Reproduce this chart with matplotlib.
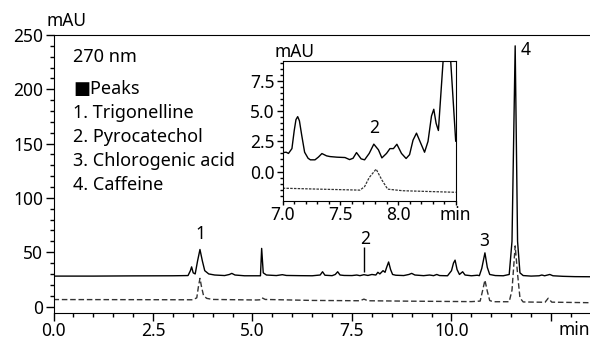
import matplotlib.pyplot as plt
from matplotlib.ticker import MultipleLocator

plt.rcParams['font.family'] = ['Noto Sans', 'DejaVu Sans']
plt.rcParams['font.size'] = 12.5

# main chromatogram, sample (solid) - time (min), signal (mAU)
t_sample = [0.0, 1.0, 2.0, 3.0, 3.38, 3.44, 3.47, 3.51, 3.56, 3.62, 3.68, 3.74, 3.80, 3.9,
            4.05, 4.3, 4.42, 4.48, 4.56, 4.8, 5.2, 5.23, 5.27, 5.35, 5.6, 5.75, 5.85, 6.2,
            6.5, 6.7, 6.76, 6.82, 7.0, 7.08, 7.14, 7.2, 7.3, 7.5, 7.62, 7.7, 7.8, 7.9, 8.0,
            8.1, 8.15, 8.2, 8.28, 8.33, 8.37, 8.42, 8.47, 8.52, 8.6, 8.8, 8.93, 9.0, 9.08,
            9.3, 9.45, 9.55, 9.63, 9.7, 9.9, 10.0, 10.05, 10.09, 10.14, 10.2, 10.28, 10.34,
            10.5, 10.65, 10.7, 10.76, 10.84, 10.9, 10.96, 11.1, 11.3, 11.45, 11.52, 11.6,
            11.66, 11.72, 11.8, 12.0, 12.2, 12.27, 12.34, 12.47, 12.55, 12.8, 13.1, 13.48]
v_sample = [28.0, 28.0, 28.2, 28.3, 28.5, 33, 36.5, 31, 30, 42, 52.5, 42, 33, 30,
            29, 28.5, 29.5, 30.5, 29, 28.3, 28.3, 53.5, 31, 29, 28.5, 29.3, 28.6, 28.4,
            28.3, 29, 32, 28.8, 28.4, 29.5, 32, 29, 28.6, 28.5, 29, 28.4, 29.3, 28.6, 29.5,
            29, 31.5, 30, 33, 31.5, 36, 41, 34, 29.5, 28.8, 28.5, 29.5, 30.5, 29,
            28.4, 29, 28.4, 29.5, 28.5, 28.3, 33, 40, 42.7, 34, 29.5, 32, 29,
            28.3, 28.8, 28.4, 35, 49.4, 36, 29.5, 28.5, 28.3, 29.5, 60, 240,
            60, 31, 28.5, 28, 28.3, 29, 28.3, 29.5, 28.3, 27.8, 27.5, 27.4]

# main chromatogram, standard (dashed)
t_std = [0.0, 2.0, 3.5, 3.6, 3.64, 3.68, 3.72, 3.77, 3.85, 4.0, 5.1, 5.2, 5.24, 5.32,
         6.5, 7.7, 7.8, 7.9, 9.0, 10.5, 10.72, 10.79, 10.84, 10.9, 10.96, 11.05, 11.45,
         11.52, 11.6, 11.66, 11.72, 11.8, 12.35, 12.43, 12.52, 13.48]
v_std = [6.4, 6.3, 6.2, 8, 18, 25.9, 18, 10, 7.5, 6.5, 6.0, 6.2, 8, 6.5,
         5.6, 5.3, 6.8, 5.3, 4.9, 4.5, 5, 16, 24.3, 14, 5.5, 4.4, 4.4,
         15, 55.8, 30, 8, 4.2, 3.9, 7.6, 4.0, 3.5]

# inset, 7.0 - 8.5 min
t_in_sample = [7.0, 7.03, 7.05, 7.08, 7.10, 7.115, 7.13, 7.145, 7.165, 7.19, 7.22, 7.24,
               7.28, 7.31, 7.34, 7.38, 7.41, 7.47, 7.54, 7.58, 7.61, 7.64, 7.68, 7.71,
               7.75, 7.79, 7.83, 7.86, 7.90, 7.93, 7.96, 7.99, 8.03, 8.07, 8.10, 8.13,
               8.16, 8.19, 8.23, 8.26, 8.29, 8.31, 8.33, 8.35, 8.425, 8.5]
v_in_sample = [1.57, 1.6, 1.5, 1.9, 3.4, 4.3, 4.55, 4.2, 3.0, 1.6, 1.1, 0.97,
               0.97, 1.2, 1.49, 1.3, 1.24, 1.19, 1.16, 0.99, 1.1, 1.57, 1.05, 0.97,
               1.5, 2.27, 1.8, 1.13, 1.5, 1.9, 1.9, 2.26, 1.5, 1.08, 1.4, 2.6,
               3.18, 2.5, 1.6, 2.5, 4.6, 5.16, 4.0, 3.4, 14.0, 2.52]
t_in_std = [7.0, 7.32, 7.67, 7.71, 7.75, 7.81, 7.86, 7.91, 8.04, 8.5]
v_in_std = [-1.38, -1.46, -1.54, -1.25, -0.5, 0.2, -0.7, -1.46, -1.59, -1.72]

legend_lines = ['1. Trigonelline', '2. Pyrocatechol', '3. Chlorogenic acid', '4. Caffeine']
peak_names = ['1', '2', '3', '4']
peak_x = [3.68, 7.83, 10.83, 11.85]
peak_y = [66.5, 62, 60, 236]

fig = plt.figure(figsize=(5.9, 3.4), dpi=100)
W, H = 590.0, 340.0

ax = fig.add_axes([53.5 / W, 1 - 312.7 / H, 1 - 53.5 / W, (312.7 - 35) / H])
ax.plot(t_sample, v_sample, color='black', lw=1.0)
ax.plot(t_std, v_std, color='#333333', lw=1.0, dashes=(4, 2))
ax.set_xlim(0, 13.48)
ax.set_ylim(-5.7, 250)
ax.spines['right'].set_visible(False)
ax.set_xticks([0, 2.5, 5, 7.5, 10, 12.5])
ax.set_xticklabels(['0.0', '2.5', '5.0', '7.5', '10.0', ''])
ax.set_yticks([0, 50, 100, 150, 200, 250])
ax.xaxis.set_minor_locator(MultipleLocator(0.5))
ax.yaxis.set_minor_locator(MultipleLocator(10))
ax.tick_params(which='major', direction='out', length=6, width=1, pad=1.5)
ax.tick_params(which='minor', direction='out', length=3, width=1)
ax.tick_params(axis='x', which='major', pad=0.5)

for name, x, y in zip(peak_names, peak_x, peak_y):
    ax.text(x, y, name, ha='center', va='center')
ax.vlines(7.8, 32, 55, color='black', lw=1.0)
fig.text(558 / W, 1 - 335 / H, 'min', va='baseline')

fig.text(47 / W, 1 - 26 / H, 'mAU', va='baseline')
fig.text(72.7 / W, 1 - 62 / H, '270 nm', va='baseline', fontsize=13)
fig.text(73 / W, 1 - 94 / H, '\u25a0Peaks', va='baseline', fontsize=13)
for i, line in enumerate(legend_lines):
    fig.text(72.7 / W, 1 - (118 + 24 * i) / H, line, va='baseline', fontsize=13)

# inset
ax_in = fig.add_axes([282.7 / W, 1 - 200.5 / H, (455.7 - 282.7) / W, (200.5 - 60.5) / H])
ax_in.plot(t_in_sample, v_in_sample, color='black', lw=1.0)
ax_in.plot(t_in_std, v_in_std, color='#333333', lw=0.9, dashes=(2, 1))
ax_in.set_xlim(7.0, 8.5)
ax_in.set_ylim(-2.4, 9.2)
ax_in.set_xticks([7.0, 7.5, 8.0, 8.5])
ax_in.set_xticklabels(['7.0', '7.5', '8.0', 'min'])
ax_in.set_yticks([0, 2.5, 5.0, 7.5])
ax_in.set_yticklabels(['0.0', '2.5', '5.0', '7.5'])
ax_in.xaxis.set_minor_locator(MultipleLocator(0.1))
ax_in.yaxis.set_minor_locator(MultipleLocator(0.5))
ax_in.tick_params(which='major', direction='out', length=4, width=1, pad=1.5)
ax_in.tick_params(which='minor', direction='out', length=2, width=1)
ax_in.tick_params(axis='x', which='major', length=3, pad=1)
ax_in.text(7.79, 3.58, '2', ha='center', va='center')
fig.text(275 / W, 1 - 56.7 / H, 'mAU', va='baseline')

fig.savefig('out.png', dpi=100)
